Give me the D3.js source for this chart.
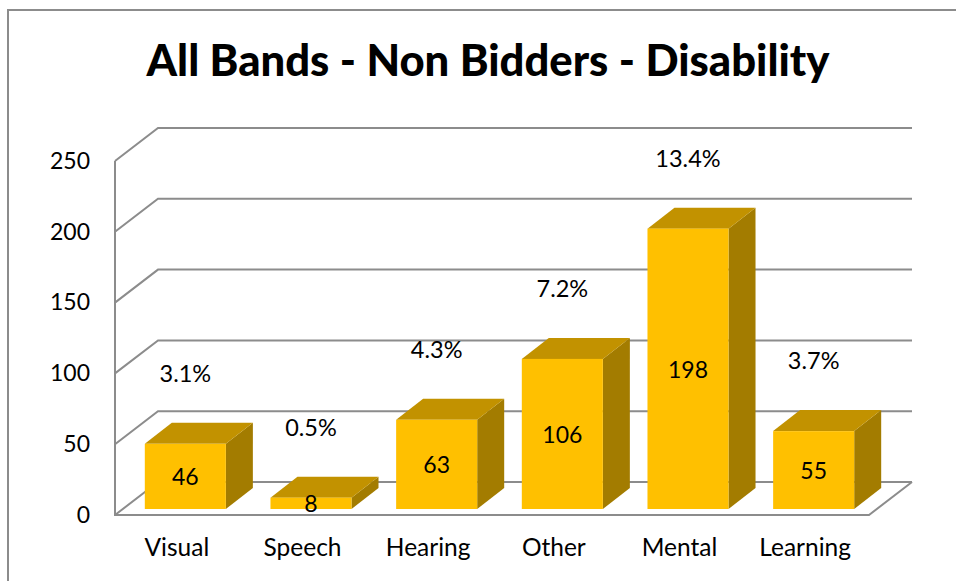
<!DOCTYPE html>
<html>
<head>
<meta charset="utf-8">
<script src="https://cdn.jsdelivr.net/npm/d3@7"></script>
<style>
  html, body { margin: 0; padding: 0; background: #fff; }
  svg { display: block; }
  text { font-family: Lato, "Open Sans", sans-serif; fill: #000; }
  .grid { stroke: #8c8c8c; stroke-width: 2; fill: none; }
</style>
</head>
<body>
<svg></svg>
<script>
const categories = ['Visual', 'Speech', 'Hearing', 'Other', 'Mental', 'Learning'];
const counts = [46, 8, 63, 106, 198, 55];
const shares = ['3.1%', '0.5%', '4.3%', '7.2%', '13.4%', '3.7%'];
const yTicks = [0, 50, 100, 150, 200, 250];

const width = 956;
const height = 581;

//---------plot box and the 3d depth offsets
const left = 115, right = 869, y0 = 515, y250 = 161;
const depthX = 43, depthY = 33;       // floor / wall depth
const barDX = 27, barDY = 21;         // bar depth
const insetX = 7.5, insetY = 6;       // bars sit a little way in from the front edge

const svg = d3.select('svg').attr('width', width).attr('height', height);

const x = d3.scaleBand().domain(categories).range([left, right]).paddingInner(0.355).paddingOuter(0.1775);
const y = d3.scaleLinear().domain([0, 250]).range([y0, y250]);

//---------outer chart frame (cropped on the right and bottom)
svg.append('path')
  .attr('d', `M8,${height}V10H${width}`)
  .attr('fill', 'none')
  .attr('stroke', '#8c8c8c')
  .attr('stroke-width', 2);

//---------title
svg.append('text')
  .attr('x', 488).attr('y', 76)
  .attr('text-anchor', 'middle')
  .style('font-size', '43.6px')
  .style('font-weight', 900)
  .text('All Bands - Non Bidders - Disability');

//---------walls and floor
const grid = svg.append('g');
grid.selectAll('.back')
  .data(yTicks)
  .join('path')
  .attr('class', 'grid back')
  .attr('d', d => `M${left},${y(d)}l${depthX},${-depthY}H${right + depthX}`);
grid.append('path').attr('class', 'grid').attr('d', `M${left},${y(250)}V${y0}H${right}l${depthX},${-depthY}`);

//---------3d bars
const bars = svg.selectAll('.bar')
  .data(categories.map((c, i) => ({ c, v: counts[i], s: shares[i] })))
  .join('g')
  .attr('class', 'bar');

const bx = d => x(d.c) + insetX;
const bw = x.bandwidth();
const by = d => y(d.v) - insetY;

bars.append('path')
  .attr('fill', '#a37c00')
  .attr('d', d => `M${bx(d) + bw},${by(d)}l${barDX},${-barDY}V${y0 - insetY - barDY}l${-barDX},${barDY}Z`);
bars.append('path')
  .attr('fill', '#c29200')
  .attr('d', d => `M${bx(d)},${by(d)}l${barDX},${-barDY}h${bw}l${-barDX},${barDY}Z`);
bars.append('rect')
  .attr('fill', '#ffc000')
  .attr('x', bx)
  .attr('y', by)
  .attr('width', bw)
  .attr('height', d => y0 - y(d.v));

//---------labels on the bars and the percentages above
bars.append('text')
  .attr('x', d => bx(d) + bw / 2)
  .attr('y', d => (by(d) + y0 - insetY) / 2 + 1)
  .attr('dy', '0.35em')
  .attr('text-anchor', 'middle')
  .style('font-size', '23px')
  .text(d => d.v);
bars.append('text')
  .attr('x', d => bx(d) + bw / 2)
  .attr('y', d => by(d) - 70)
  .attr('dy', '0.35em')
  .attr('text-anchor', 'middle')
  .style('font-size', '23.5px')
  .text(d => d.s);

//---------axes
const yAxis = svg.append('g')
  .attr('transform', `translate(${left},0)`)
  .call(d3.axisLeft(y).tickValues(yTicks).tickSize(0).tickPadding(25));
const xAxis = svg.append('g')
  .attr('transform', `translate(-1,${y0})`)
  .call(d3.axisBottom(x).tickSize(0).tickPadding(24));
yAxis.select('.domain').remove();
xAxis.select('.domain').remove();
yAxis.selectAll('text').style('font-size', '23px');
xAxis.selectAll('text').style('font-size', '24.5px');
</script>
</body>
</html>
